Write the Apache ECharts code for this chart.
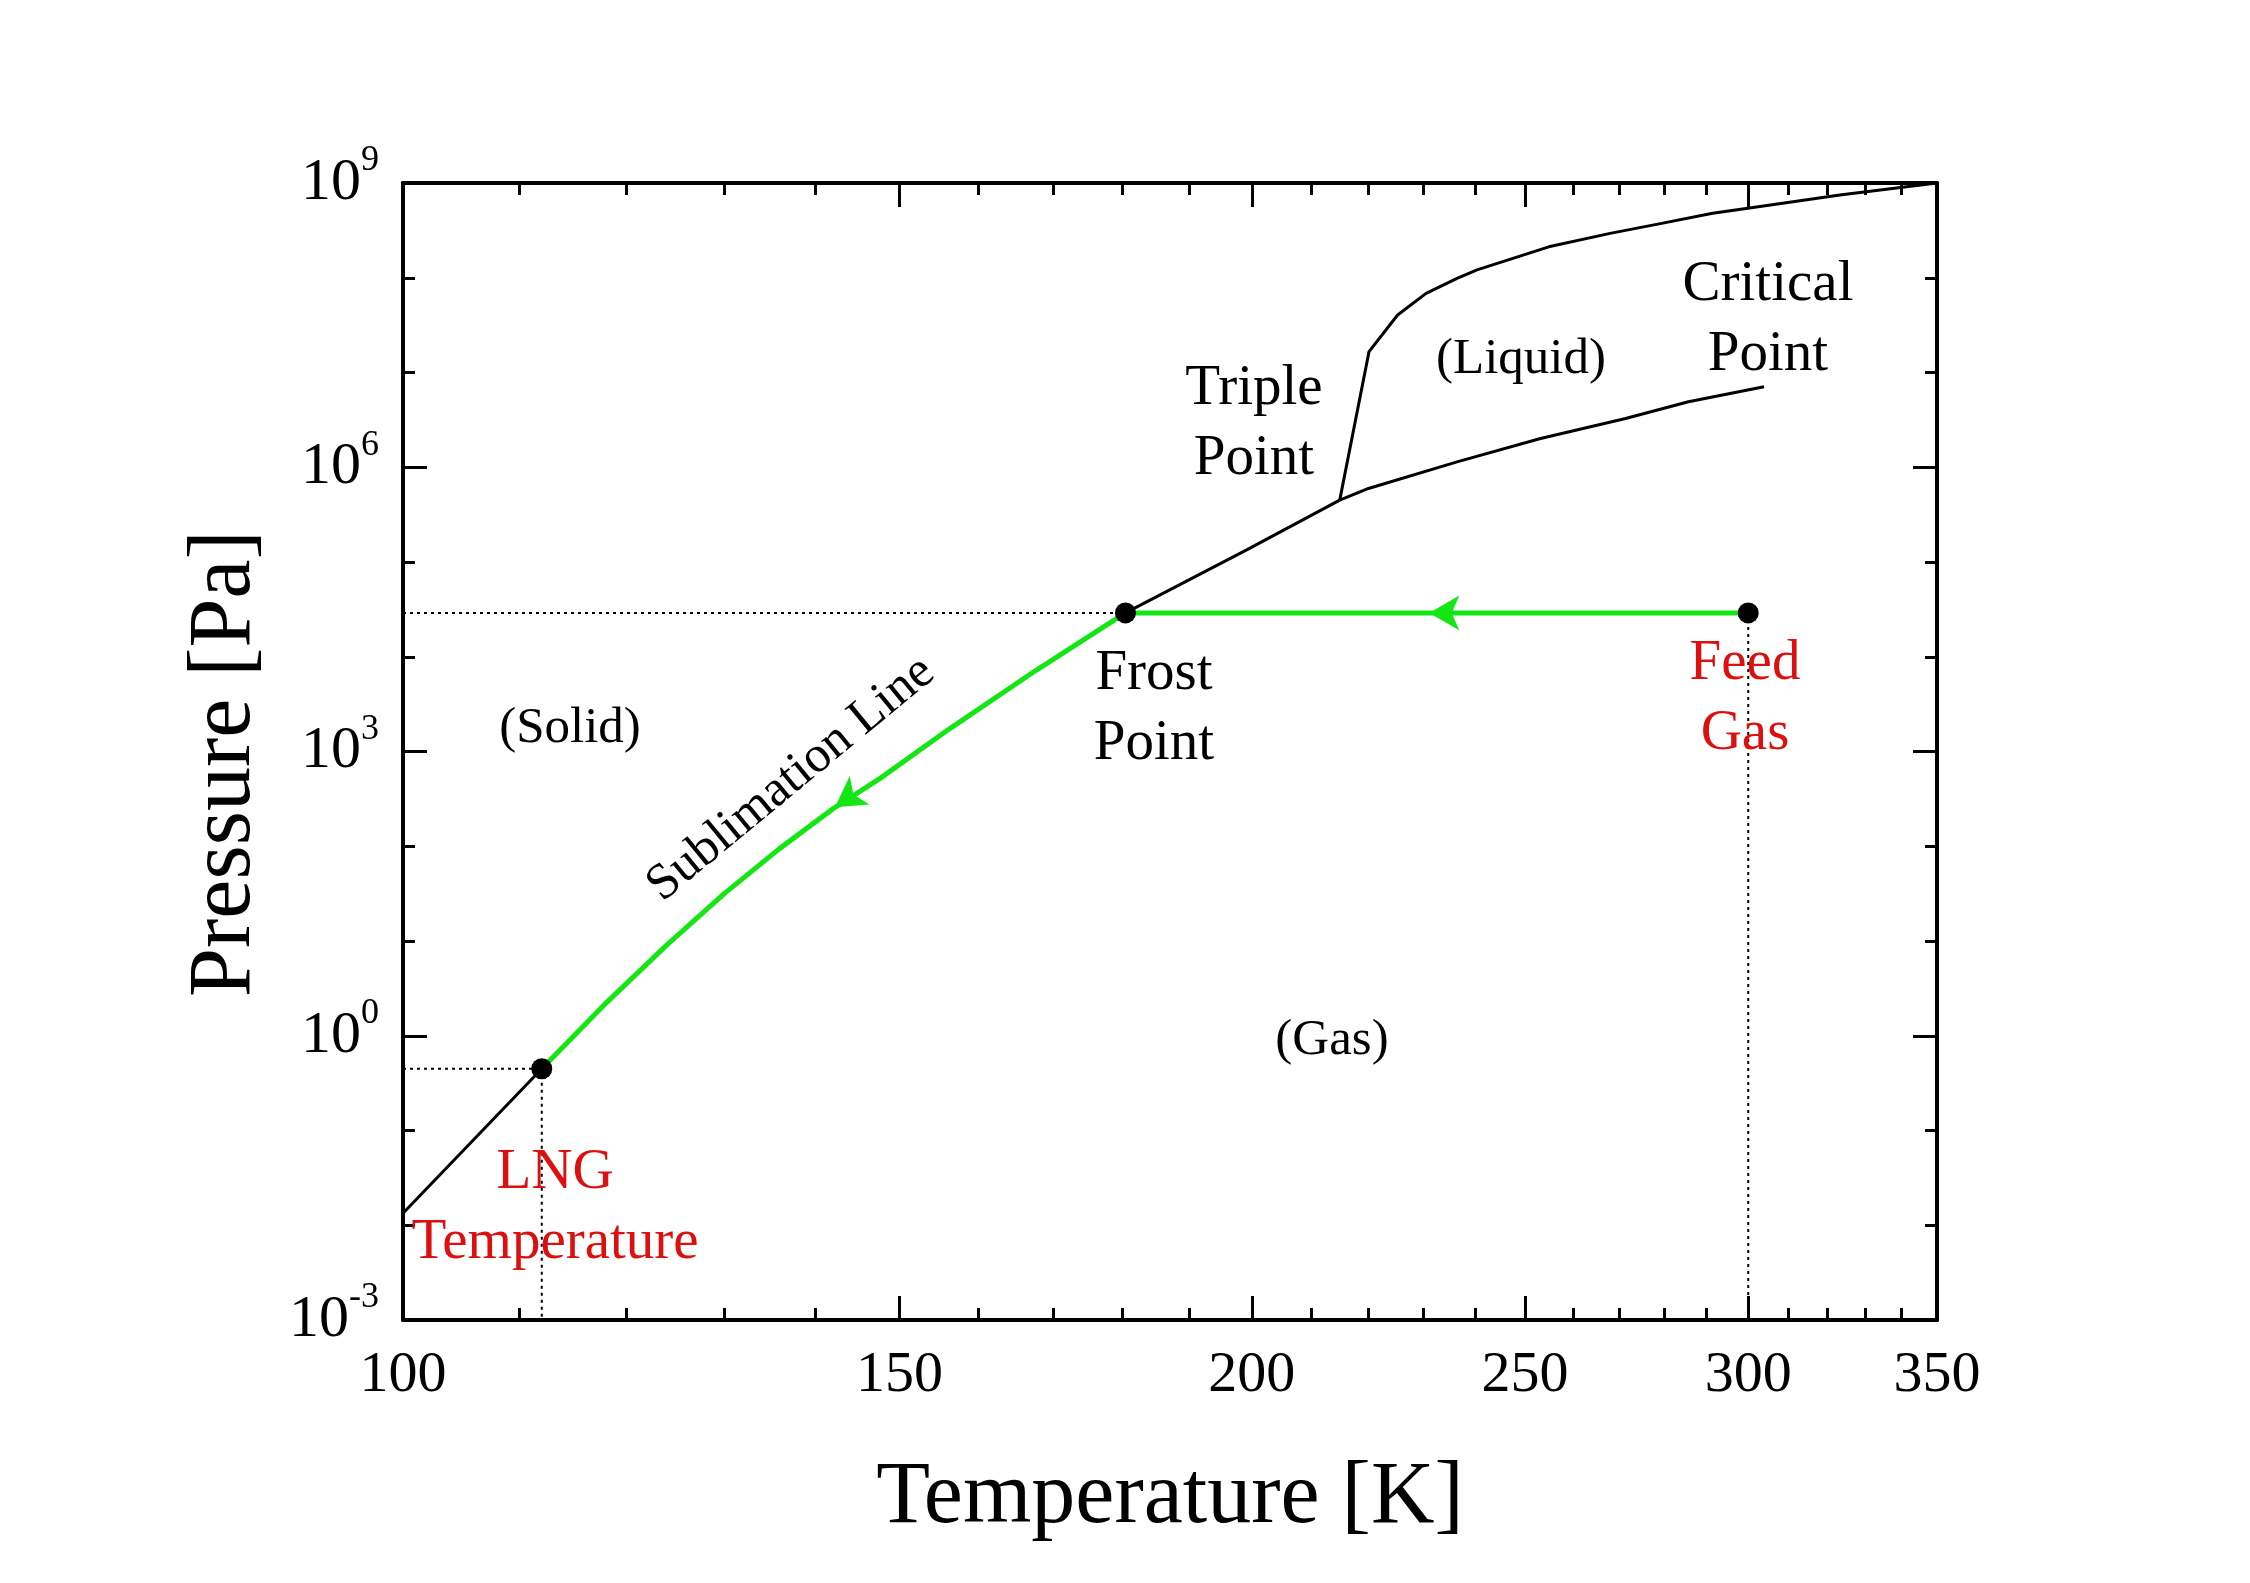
<!DOCTYPE html>
<html><head><meta charset="utf-8">
<script src="https://cdn.jsdelivr.net/npm/echarts@6/dist/echarts.min.js"></script>
<style>html,body{margin:0;padding:0;background:#fff}#c{width:2250px;height:1583px}</style>
</head><body><div id="c"></div>
<script>
// ---- tick labels ----
const xMajorTicks = [100, 150, 200, 250, 300, 350];
const xMinorTicks = [110, 120, 130, 140, 160, 170, 180, 190, 210, 220, 230, 240, 260, 270, 280, 290, 310, 320, 330, 340];
const yExponents = [-3, 0, 3, 6, 9];

// ---- phase boundaries (T in K, P in Pa) ----
const sublimT = [100, 112.0, 117.8, 124.0, 130.0, 136.0, 142.1, 147.6, 156.3, 167.7, 180.4, 199.1, 214.9];
const sublimP = [0.0134, 0.448, 2.09, 8.99, 31.6, 94.4, 249.5, 517.6, 1746, 7194, 29040, 1.334e5, 4.50e5];
const meltT = [214.9, 220.1, 225.3, 230.6, 236.5, 240.4, 254.9, 268.0, 279.5, 291.4, 299.9, 323.3, 350];
const meltP = [4.50e5, 1.66e7, 4.04e7, 6.84e7, 9.86e7, 1.21e8, 2.12e8, 2.94e8, 3.75e8, 4.79e8, 5.41e8, 7.47e8, 1e9];
const vapT = [214.9, 220.0, 236.5, 253.2, 271.4, 285.7, 303.9];
const vapP = [4.50e5, 5.97e5, 1.14e6, 2.01e6, 3.27e6, 4.91e6, 7.06e6];

// ---- cooling path (green) ----
const pathT = [300, 180.4, 167.7, 156.3, 147.6, 142.1, 136.0, 130.0, 124.0, 117.8, 112.0];
const pathP = [29040, 29040, 7194, 1746, 517.6, 249.5, 94.4, 31.6, 8.99, 2.09, 0.448];

// ---- key points: LNG temperature, frost point, feed gas ----
const pointNames = ['LNG Temperature', 'Frost Point', 'Feed Gas'];
const pointT = [112.0, 180.4, 300];
const pointP = [0.448, 29040, 29040];

// ---- arrow heads on the path (tip positions) ----
const arrowT = [231.2, 142.3];
const arrowP = [29040, 258];

const X_MIN = 100, X_MAX = 350, Y_MIN = 1e-3, Y_MAX = 1e9;
const FONT = "'Liberation Serif','Times New Roman',serif";
const GREEN = '#14e614';
const RED = '#dd1010';

const pairs = (xs, ys) => xs.map((x, i) => [x, ys[i]]);
const lg = v => Math.log10(v);

const frame = {color: '#000', width: 4};
const tickStyle = {color: '#000', width: 3};

function xOverlay(pos, values, len, withLine, withLabel) {
  const a = {
    type: 'value', position: pos, min: lg(X_MIN), max: lg(X_MAX),
    splitLine: {show: false},
    axisLine: {show: withLine, onZero: false, lineStyle: frame},
    axisTick: {show: true, inside: true, length: len, lineStyle: tickStyle, customValues: values.map(lg)},
    axisLabel: {show: false}
  };
  if (withLabel) {
    a.axisLabel = {
      show: true, customValues: values.map(lg), margin: 27,
      formatter: v => String(Math.round(Math.pow(10, v))),
      color: '#000', fontFamily: FONT, fontSize: 58
    };
    a.name = 'Temperature [K]';
    a.nameLocation = 'middle';
    a.nameGap = 135;
    a.nameTextStyle = {fontFamily: FONT, fontSize: 88, color: '#000'};
  }
  return a;
}

function yOverlay(pos, withLabel) {
  const a = {
    type: 'value', position: pos, min: -3, max: 9, interval: 3,
    splitLine: {show: false}, minorSplitLine: {show: false},
    axisLine: {show: true, onZero: false, lineStyle: frame},
    axisTick: {show: true, inside: true, length: 24, lineStyle: tickStyle},
    minorTick: {show: true, splitNumber: 3, length: 12, lineStyle: tickStyle},
    axisLabel: {show: false}
  };
  if (withLabel) {
    a.axisLabel = {
      show: true, customValues: yExponents, margin: 24,
      formatter: v => '{b|10}{s|' + v + '}',
      rich: {
        b: {fontFamily: FONT, fontSize: 60, lineHeight: 80, color: '#000'},
        s: {fontFamily: FONT, fontSize: 36, lineHeight: 36, verticalAlign: 'top', color: '#000'}
      }
    };
    a.name = 'Pressure [Pa]';
    a.nameLocation = 'middle';
    a.nameGap = 133;
    a.nameTextStyle = {fontFamily: FONT, fontSize: 88, color: '#000', padding: [0, 24, 0, 0]};
  }
  return a;
}

function guide(p1, p2) {
  return {
    type: 'line', xAxisIndex: 0, yAxisIndex: 0, data: [p1, p2], symbol: 'none',
    lineStyle: {color: '#000', width: 2, type: [3, 4]}, z: 1, silent: true
  };
}

function txt(text, x, y, size, color, rot) {
  return {
    type: 'text', x: x, y: y, rotation: (rot || 0) * Math.PI / 180, z: 10,
    style: {
      text: text, fill: color || '#000', fontFamily: FONT, fontSize: size,
      align: 'center', verticalAlign: 'middle', textAlign: 'center', textVerticalAlign: 'middle',
      lineHeight: 70
    }
  };
}

const chart = echarts.init(document.getElementById('c'), null, {renderer: 'canvas'});
chart.setOption({
  animation: false,
  backgroundColor: '#fff',
  grid: {left: 403, right: 313, top: 183, bottom: 263, containLabel: false, outerBoundsMode: 'none'},
  xAxis: [
    {type: 'log', logBase: 10, min: X_MIN, max: X_MAX, show: false, axisLine: {onZero: false}, splitLine: {show: false}},
    xOverlay('bottom', xMajorTicks, 24, true, true),
    xOverlay('bottom', xMinorTicks, 12, false, false),
    xOverlay('top', xMajorTicks, 24, true, false),
    xOverlay('top', xMinorTicks, 12, false, false)
  ],
  yAxis: [
    {type: 'log', logBase: 10, min: Y_MIN, max: Y_MAX, show: false, axisLine: {onZero: false}, splitLine: {show: false}},
    yOverlay('left', true),
    yOverlay('right', false)
  ],
  series: [
    guide([X_MIN, pointP[1]], [pointT[1], pointP[1]]),
    guide([pointT[2], pointP[2]], [pointT[2], Y_MIN]),
    guide([X_MIN, pointP[0]], [pointT[0], pointP[0]]),
    guide([pointT[0], pointP[0]], [pointT[0], Y_MIN]),
    {type: 'line', name: 'Sublimation line', xAxisIndex: 0, yAxisIndex: 0, data: pairs(sublimT, sublimP),
     symbol: 'none', lineStyle: {color: '#000', width: 3}, z: 2},
    {type: 'line', name: 'Melting line', xAxisIndex: 0, yAxisIndex: 0, data: pairs(meltT, meltP),
     symbol: 'none', lineStyle: {color: '#000', width: 3}, z: 2},
    {type: 'line', name: 'Vaporization line', xAxisIndex: 0, yAxisIndex: 0, data: pairs(vapT, vapP),
     symbol: 'none', lineStyle: {color: '#000', width: 3}, z: 2},
    {type: 'line', name: 'Cooling path', xAxisIndex: 0, yAxisIndex: 0, data: pairs(pathT, pathP),
     symbol: 'none', lineStyle: {color: GREEN, width: 5}, z: 3},
    {type: 'scatter', name: 'Arrows', xAxisIndex: 0, yAxisIndex: 0,
     data: [
       {value: [arrowT[0], arrowP[0]], symbolRotate: 90},
       {value: [arrowT[1], arrowP[1]], symbolRotate: 124.7}
     ],
     symbol: 'arrow', symbolSize: [26, 30], itemStyle: {color: GREEN, opacity: 1}, z: 4},
    {type: 'scatter', name: 'Points', xAxisIndex: 0, yAxisIndex: 0,
     data: pointT.map((t, i) => ({name: pointNames[i], value: [t, pointP[i]]})),
     symbol: 'circle', symbolSize: 21, itemStyle: {color: '#000', opacity: 1}, z: 5}
  ],
  graphic: [
    txt('Triple\nPoint', 1254, 424, 57),
    txt('(Liquid)', 1521, 360, 51),
    txt('Critical\nPoint', 1768, 320, 57),
    txt('(Solid)', 570, 729, 51),
    txt('Frost\nPoint', 1154, 709, 57),
    txt('Feed\nGas', 1745, 699, 57, RED),
    txt('(Gas)', 1332, 1041, 51),
    txt('LNG\nTemperature', 555, 1208, 57, RED),
    txt('Sublimation Line', 791, 779, 51, '#000', 39.5)
  ]
});
</script>
</body></html>
